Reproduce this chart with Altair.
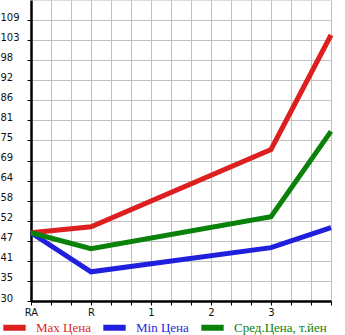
import json
import altair as alt
import pandas as pd

# x positions (0 = RA, 1 = R, 2 = "1", 3 = "2", 4 = "3", 5 = end)
x_pos = [0, 1, 4, 5]
max_price = [49.2, 50.9, 72.6, 104.8]
min_price = [49.2, 38.2, 45.0, 50.6]
avg_price = [49.2, 44.7, 53.7, 77.7]

series_names = ["Max Цена", "Min Цена", "Сред.Цена, т.йен"]
series_colors = ["#dd1f1f", "#1f1fdd", "#0a820a"]

x_labels = ["RA", "R", "1", "2", "3"]
y_labels = ["30", "35", "41", "47", "52", "58", "64", "69", "75", "81",
            "86", "92", "98", "103", "109"]

y_min = 30.0
y_step = (109 - 30) / 14.0

rows = []
for name, vals in zip(series_names, [max_price, min_price, avg_price]):
    for x, v in zip(x_pos, vals):
        rows.append({"x": x, "v": v, "s": name})
df = pd.DataFrame(rows)

y_ticks = [y_min + i * y_step for i in range(15)]
x_ticks = [i / 3 for i in range(16)]

y_label_expr = (json.dumps(y_labels, ensure_ascii=False)
                + f"[round((datum.value - {y_min}) / {y_step})]")
x_label_expr = ("abs(datum.value - round(datum.value)) < 0.01 && datum.value < 4.5 ? "
                + json.dumps(x_labels) + "[round(datum.value)] : ''")

color_expr = (f"datum.label == '{series_names[0]}' ? '{series_colors[0]}' : "
              f"(datum.label == '{series_names[1]}' ? '{series_colors[1]}' : '{series_colors[2]}')")

chart = alt.Chart(df).mark_line(strokeWidth=5).encode(
    x=alt.X("x:Q",
            scale=alt.Scale(domain=[0, 5], nice=False, zero=False),
            axis=alt.Axis(values=x_ticks, labelExpr=x_label_expr, title=None,
                          grid=True, gridColor="#c0c0c0", gridWidth=1,
                          domainColor="black", domainWidth=2.5,
                          tickColor="black", tickSize=4, tickWidth=1,
                          labelFont="DejaVu Sans", labelFontSize=10,
                          labelColor="#111111", labelPadding=2,
                          labelFlush=False, labelOverlap=False)),
    y=alt.Y("v:Q",
            scale=alt.Scale(domain=[y_min, y_min + 15 * y_step], nice=False, zero=False),
            axis=alt.Axis(values=y_ticks, labelExpr=y_label_expr, title=None,
                          grid=True, gridColor="#c0c0c0", gridWidth=1,
                          domainColor="black", domainWidth=2.5,
                          tickColor="black", tickSize=4, tickWidth=1,
                          labelFont="DejaVu Sans", labelFontSize=10,
                          labelColor="#111111", labelAlign="left",
                          labelBaseline="alphabetic", labelPadding=27,
                          labelOverlap=False)),
    color=alt.Color("s:N",
                    scale=alt.Scale(domain=series_names, range=series_colors),
                    legend=alt.Legend(orient="none", legendX=-31, legendY=313,
                                      direction="horizontal", title=None,
                                      symbolType="stroke", symbolSize=500,
                                      symbolStrokeWidth=6, columnPadding=0,
                                      labelOffset=7,
                                      labelFont="Liberation Serif", labelFontSize=13,
                                      labelColor={"expr": color_expr},
                                      labelLimit=200)),
).properties(
    width=300, height=301,
    autosize=alt.AutoSizeParams(type="none"),
    padding={"left": 31, "top": 0, "right": 14, "bottom": 34},
).configure_view(
    fill="#f5f5f5", stroke=None
).configure(background="white")

chart.save("out.html", embed_options={"renderer": "svg", "actions": False})
